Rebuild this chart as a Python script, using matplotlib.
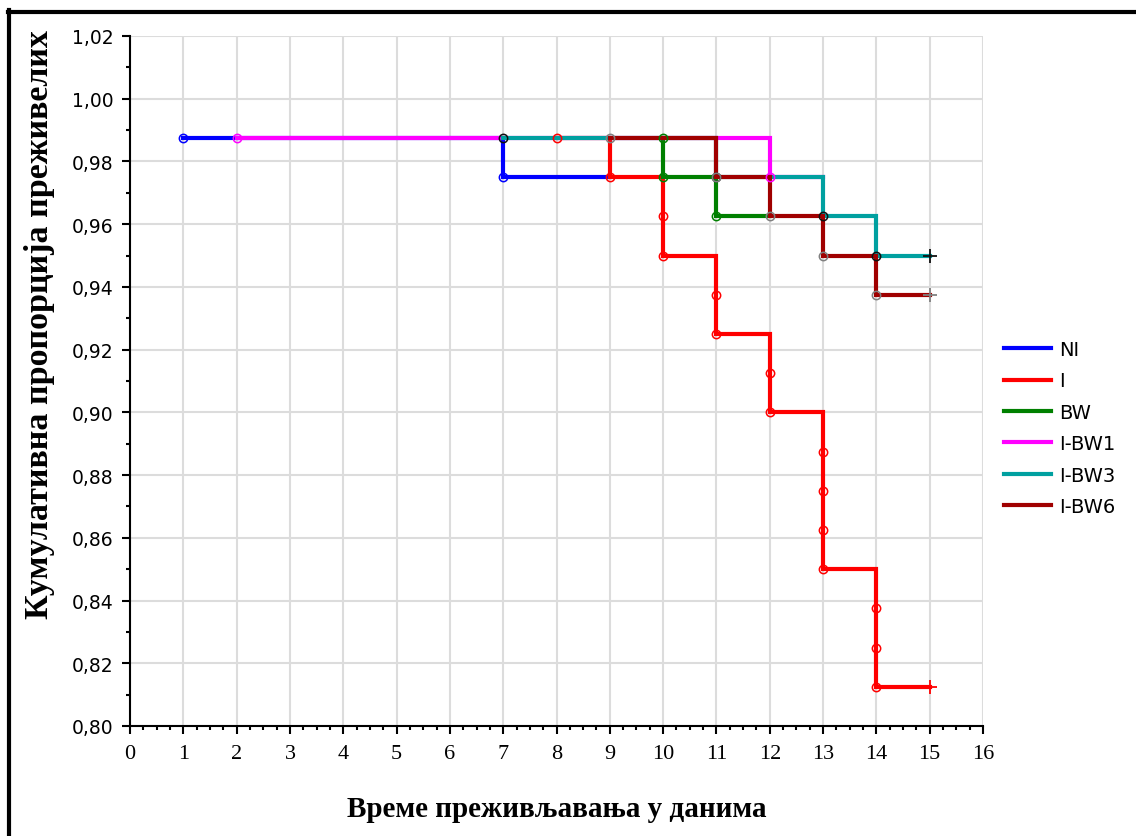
import matplotlib.pyplot as plt
from matplotlib.lines import Line2D
from matplotlib.ticker import FuncFormatter, MultipleLocator

# Каплан-Мајер криве по групама (време у данима, кумулативна пропорција)
groups = ['NI', 'I', 'BW', 'I-BW1', 'I-BW3', 'I-BW6']

t_ni = [1, 7, 9]
s_ni = [0.9875, 0.975, 0.975]

t_i = [8, 9, 10, 10, 11, 11, 12, 12, 13, 13, 13, 13, 14, 14, 14, 15]
s_i = [0.9875, 0.975, 0.9625, 0.95, 0.9375, 0.925, 0.9125, 0.90,
       0.8875, 0.875, 0.8625, 0.85, 0.8375, 0.825, 0.8125, 0.8125]

t_bw = [10, 10, 11, 12]
s_bw = [0.9875, 0.975, 0.9625, 0.9625]

t_ibw1 = [2, 12, 13]
s_ibw1 = [0.9875, 0.975, 0.975]

t_ibw3 = [7, 11, 13, 14, 15]
s_ibw3 = [0.9875, 0.975, 0.9625, 0.95, 0.95]

t_ibw6 = [9, 11, 12, 13, 14, 15]
s_ibw6 = [0.9875, 0.975, 0.9625, 0.95, 0.9375, 0.9375]

censored = [False, True, False, False, True, True]

times = [t_ni, t_i, t_bw, t_ibw1, t_ibw3, t_ibw6]
surv = [s_ni, s_i, s_bw, s_ibw1, s_ibw3, s_ibw6]
line_colors = ['#0000ff', '#ff0000', '#008000', '#ff00ff', '#00a0a0', '#a00000']
marker_colors = ['#0000ff', '#ff0000', '#008000', '#ff00ff', '#101010', '#808080']

fig = plt.figure(figsize=(11.36, 8.37), dpi=100)
ax = fig.add_axes([130 / 1136, 1 - 727 / 837, (983 - 130) / 1136, (727 - 37) / 837])

# степенасте линије
for t, s, c, name in zip(times, surv, line_colors, groups):
    ax.plot(t, s, drawstyle='steps-post', color=c, lw=3, label=name,
            solid_joinstyle='miter', zorder=3)

# ознаке догађаја и цензурисања преко свих линија
for t, s, mc, cens in zip(times, surv, marker_colors, censored):
    ax.plot(t[:-1], s[:-1], 'o', ms=6, mfc='none', mec=mc, mew=1.1, zorder=5)
    if cens:
        ax.plot(t[-1:], s[-1:], '+', ms=10, color=mc, mew=1.3, zorder=5)

ax.set_xlim(0, 16)
ax.set_ylim(0.80, 1.02)
ax.xaxis.set_major_locator(MultipleLocator(1))
ax.xaxis.set_minor_locator(MultipleLocator(0.25))
ax.yaxis.set_major_locator(MultipleLocator(0.02))
ax.yaxis.set_minor_locator(MultipleLocator(0.01))
ax.yaxis.set_major_formatter(FuncFormatter(lambda v, p: f'{v:.2f}'.replace('.', ',')))

ax.grid(True, which='major', color='#dcdcdc', lw=1.5, zorder=0)
ax.set_axisbelow(True)
for side in ['top', 'right']:
    ax.spines[side].set_visible(False)
for side in ['left', 'bottom']:
    ax.spines[side].set_linewidth(1.5)

ax.tick_params(axis='both', which='major', length=6, width=1.5, direction='out')
ax.tick_params(axis='both', which='minor', length=3, width=1.5, direction='out')
ax.tick_params(axis='x', pad=7)
ax.tick_params(axis='y', pad=6)
for lbl in ax.get_xticklabels():
    lbl.set_fontfamily('Liberation Serif')
    lbl.set_fontsize(16)
for lbl in ax.get_yticklabels():
    lbl.set_fontfamily('DejaVu Sans')
    lbl.set_fontsize(13.5)

fig.text(557 / 1136, 1 - 810 / 837, 'Време преживљавања у данима',
         ha='center', va='center', fontsize=21, fontweight='bold',
         family='Liberation Serif')
fig.text(40 / 1136, 1 - 325 / 837, 'Кумулативна пропорција преживелих',
         ha='center', va='center', rotation=90, fontsize=24.5, fontweight='bold',
         family='Liberation Serif')

leg = ax.legend(loc='center left', bbox_to_anchor=(1004 / 1136, 1 - 429 / 837),
                bbox_transform=fig.transFigure, frameon=False,
                prop={'family': 'DejaVu Sans', 'size': 14},
                handlelength=2.4, handletextpad=0.45, labelspacing=0.64,
                borderaxespad=0, borderpad=0)

# оквир слике (горња и лева ивица)
fig.add_artist(Line2D([8 / 1136, 1], [1 - 12.5 / 837] * 2, transform=fig.transFigure,
                      color='black', lw=3))
fig.add_artist(Line2D([8.5 / 1136] * 2, [0, 1 - 11 / 837], transform=fig.transFigure,
                      color='black', lw=3))

fig.savefig('out.png', dpi=100)
